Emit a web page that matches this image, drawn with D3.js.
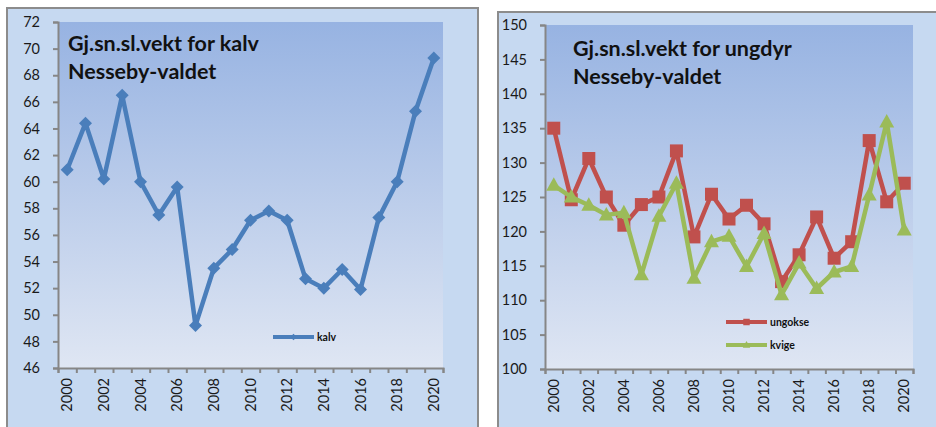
<!DOCTYPE html>
<html>
<head>
<meta charset="utf-8">
<script src="https://cdn.jsdelivr.net/npm/d3@7"></script>
<style>
  body { margin: 0; background: #fff; }
  svg { display: block; }
  .tick text { font-family: Lato, "Open Sans", sans-serif; font-size: 14.5px; fill: #1a1a1a; }
  .title { font-family: Lato, sans-serif; font-weight: bold; font-size: 21.5px; fill: #111; }
  .legendText { font-family: Lato, sans-serif; font-weight: bold; font-size: 10.5px; fill: #111; }
</style>
</head>
<body>
<div id="chart"></div>
<script>
var years = d3.range(2000, 2021);

var kalv = [60.9, 64.4, 60.2, 66.5, 60.0, 57.5, 59.6, 49.2, 53.5, 54.9, 57.1,
            57.8, 57.1, 52.7, 52.0, 53.4, 51.9, 57.3, 60.0, 65.3, 69.3];

var ungokse = [135.0, 124.6, 130.6, 125.0, 120.9, 123.9, 125.0, 131.7, 119.2, 125.4, 121.8,
               123.8, 121.1, 112.7, 116.6, 122.1, 116.1, 118.5, 133.2, 124.3, 127.0];

var kvige = [126.7, 125.0, 123.8, 122.4, 122.7, 113.7, 122.2, 127.0, 113.2, 118.5, 119.3,
             114.9, 119.7, 110.8, 115.4, 111.7, 114.1, 114.9, 125.3, 135.9, 120.2];

var kalvTicks = d3.range(46, 73, 2);
var ungdyrTicks = d3.range(100, 151, 5);

var svgWidth = 936;
var svgHeight = 427;

var svg = d3.select("#chart")
  .append("svg")
  .attr("width", svgWidth)
  .attr("height", svgHeight);

var defs = svg.append("defs");
var grad = defs.append("linearGradient")
  .attr("id", "plotGrad")
  .attr("x1", 0).attr("y1", 0).attr("x2", 0).attr("y2", 1);
grad.append("stop").attr("offset", "0%").attr("stop-color", "#97b3e2");
grad.append("stop").attr("offset", "100%").attr("stop-color", "#dfe6f3");

var diamond = "M0,-6.5L6.5,0L0,6.5L-6.5,0Z";
var square = "M-6.5,-6.5H6.5V6.5H-6.5Z";
var triangle = "M0,-8L7.5,5.5L-7.5,5.5Z";

function drawChart(cfg) {
  // outer frame
  svg.append("rect")
    .attr("x", cfg.frame[0]).attr("y", cfg.frame[1])
    .attr("width", cfg.frame[2]).attr("height", cfg.frame[3])
    .attr("fill", "#c6d9f1")
    .attr("stroke", "#8c8c8c")
    .attr("stroke-width", 2);

  var left = cfg.plot[0], top = cfg.plot[1];
  var width = cfg.plot[2], height = cfg.plot[3];

  var g = svg.append("g")
    .attr("transform", `translate(${left}, ${top})`);

  g.append("rect")
    .attr("width", width).attr("height", height)
    .attr("fill", "url(#plotGrad)");

  var x = d3.scaleBand().domain(years).range([0, width]);
  var xEdge = d3.scaleLinear().domain([0, years.length]).range([0, width]);
  var y = d3.scaleLinear().domain(cfg.domain).range([height, 0]);

  var leftAxis = d3.axisLeft(y).tickValues(cfg.ticks).tickSize(5).tickPadding(13);
  var yAxis = g.append("g").call(leftAxis);

  var edgeAxis = d3.axisBottom(xEdge).tickValues(d3.range(0, years.length + 1))
    .tickSize(5).tickFormat("");
  var xEdges = g.append("g")
    .attr("transform", `translate(0, ${height})`)
    .call(edgeAxis);

  var bottomAxis = d3.axisBottom(x)
    .tickValues(years.filter(d => d % 2 === 0))
    .tickSize(0);
  var xAxis = g.append("g")
    .attr("transform", `translate(0, ${height})`)
    .call(bottomAxis);
  xAxis.select(".domain").remove();
  xAxis.selectAll("text")
    .attr("transform", "rotate(-90)")
    .attr("text-anchor", "end")
    .attr("x", -10)
    .attr("y", 0)
    .attr("dy", "0.35em");

  [yAxis, xEdges].forEach(function(a) {
    a.selectAll(".domain, line").attr("stroke", "#868686").attr("stroke-width", 2);
  });

  var line = d3.line()
    .x((d, i) => x(years[i]) + x.bandwidth() / 2)
    .y(d => y(d));

  cfg.series.forEach(function(s) {
    g.append("path")
      .datum(s.values)
      .attr("fill", "none")
      .attr("stroke", s.color)
      .attr("stroke-width", 4.5)
      .attr("stroke-linejoin", "round")
      .attr("d", line);

    g.selectAll(null)
      .data(s.values)
      .enter()
      .append("path")
      .attr("d", s.marker)
      .attr("transform", (d, i) => `translate(${x(years[i]) + x.bandwidth() / 2}, ${y(d)})`)
      .attr("fill", s.color);
  });

  // title
  cfg.title.forEach(function(t, i) {
    svg.append("text")
      .attr("class", "title")
      .attr("x", cfg.titlePos[0])
      .attr("y", cfg.titlePos[1] + i * 28)
      .text(t);
  });

  // legend
  cfg.series.forEach(function(s, i) {
    var ly = cfg.legendPos[1] + i * 23;
    svg.append("line")
      .attr("x1", cfg.legendPos[0]).attr("x2", cfg.legendPos[0] + 41)
      .attr("y1", ly).attr("y2", ly)
      .attr("stroke", s.color)
      .attr("stroke-width", 4);
    svg.append("path")
      .attr("d", s.marker)
      .attr("transform", `translate(${cfg.legendPos[0] + 20.5}, ${ly}) scale(0.5)`)
      .attr("fill", s.color);
    svg.append("text")
      .attr("class", "legendText")
      .attr("x", cfg.legendPos[0] + 44)
      .attr("y", ly + 4)
      .text(s.name);
  });
}

drawChart({
  frame: [7, 8, 471, 430],
  plot: [58, 22, 385, 346],
  domain: [46, 72],
  ticks: kalvTicks,
  title: ["Gj.sn.sl.vekt for kalv", "Nesseby-valdet"],
  titlePos: [68, 51],
  legendPos: [273, 337],
  series: [
    { name: "kalv", values: kalv, color: "#4a7ebb", marker: diamond }
  ]
});

drawChart({
  frame: [498, 12, 450, 430],
  plot: [545, 25, 368, 344],
  domain: [100, 150],
  ticks: ungdyrTicks,
  title: ["Gj.sn.sl.vekt for ungdyr", "Nesseby-valdet"],
  titlePos: [573, 56],
  legendPos: [726, 322],
  series: [
    { name: "ungokse", values: ungokse, color: "#c0504d", marker: square },
    { name: "kvige", values: kvige, color: "#9bbb59", marker: triangle }
  ]
});
</script>
</body>
</html>
